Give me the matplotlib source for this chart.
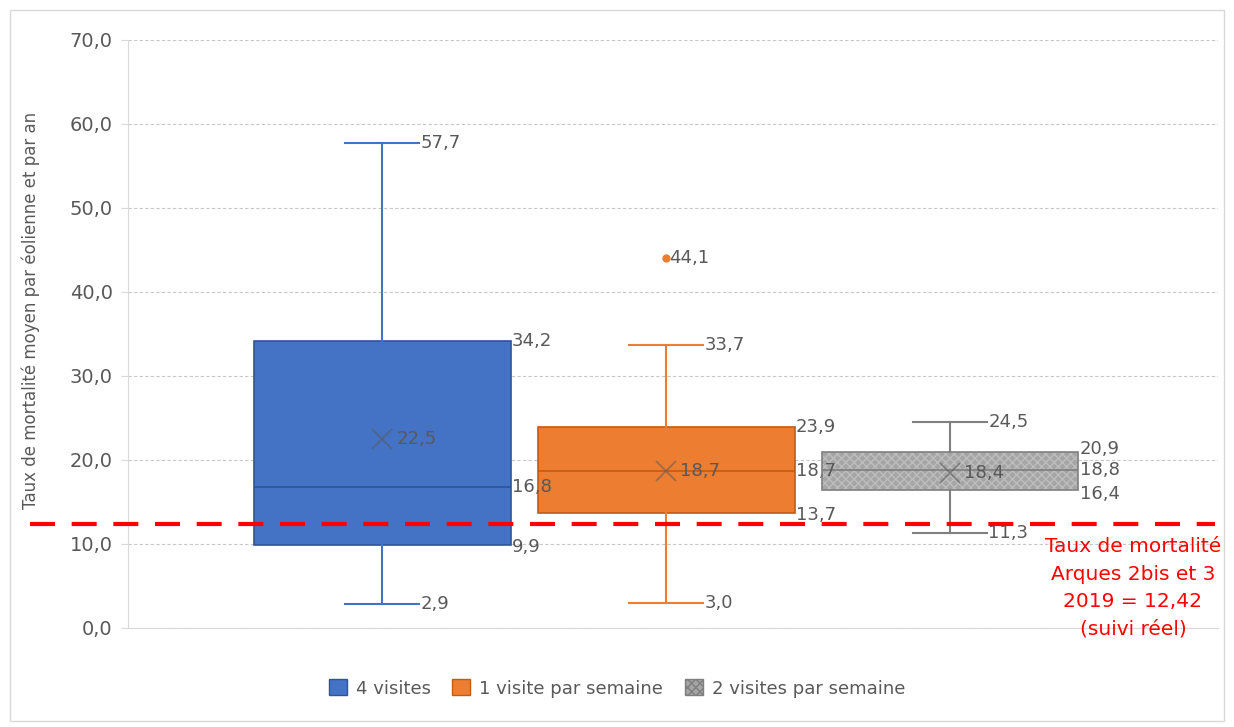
import matplotlib.pyplot as plt
from matplotlib.patches import Rectangle

series = ['4 visites', '1 visite par semaine', '2 visites par semaine']
mins = [2.9, 3.0, 11.3]
q1s = [9.9, 13.7, 16.4]
medians = [16.8, 18.7, 18.8]
q3s = [34.2, 23.9, 20.9]
maxs = [57.7, 33.7, 24.5]
means = [22.5, 18.7, 18.4]
outliers = [[], [44.1], []]
ref_rate = 12.42

fills = ['#4472C4', '#ED7D31', '#A5A5A5']
edges = ['#2F5597', '#C55A11', '#7F7F7F']
txt = '#595959'

def fr(v):
    return f'{v:.1f}'.replace('.', ',')

fig = plt.figure(figsize=(12.34, 7.27), dpi=100)
ax = fig.add_axes([0.1037, 0.1362, 0.8833, 0.8088])

pos = [1, 2, 3]
width = 0.905
cap = 0.26
for i, p in enumerate(pos):
    stats = [dict(whislo=mins[i], q1=q1s[i], med=medians[i], q3=q3s[i],
                  whishi=maxs[i], mean=means[i], fliers=outliers[i])]
    wc = fills[i] if i < 2 else '#808080'
    res = ax.bxp(stats, positions=[p], widths=width, patch_artist=True,
                 showmeans=False, showfliers=False, capwidths=cap,
                 boxprops=dict(facecolor=fills[i], edgecolor=edges[i], linewidth=1.2),
                 medianprops=dict(color=edges[i], linewidth=1.2),
                 whiskerprops=dict(color=wc, linewidth=1.5),
                 capprops=dict(color=wc, linewidth=1.5))
    if i == 2:
        # textured fill with a lighter hatch, outline drawn on top
        b = res['boxes'][0]
        b.set_edgecolor('#BDBDBD')
        b.set_hatch('xxxx')
        b.set_linewidth(0)
        ax.add_patch(Rectangle((p - width / 2, q1s[i]), width, q3s[i] - q1s[i],
                               fill=False, edgecolor=edges[i], linewidth=1.2, zorder=3))
    ax.plot(p, means[i], marker='x', color='#595959', alpha=0.55, markersize=15,
            markeredgewidth=1.3, zorder=5)
    for o in outliers[i]:
        ax.plot(p, o, 'o', color=fills[i], markersize=5, zorder=5)
        ax.text(p + 0.01, o, fr(o), color=txt, fontsize=13, va='center', ha='left')

    right = p + width / 2
    kw = dict(color=txt, fontsize=13, va='center', ha='left')
    ax.text(p + cap / 2 + 0.005, maxs[i], fr(maxs[i]), **kw)
    ax.text(p + cap / 2 + 0.005, mins[i], fr(mins[i]), **kw)
    ax.text(p + 0.05, means[i], fr(means[i]), **kw)
    if i == 2:
        ax.text(right + 0.005, q3s[i] + 0.4, fr(q3s[i]), **kw)
        ax.text(right + 0.005, medians[i], fr(medians[i]), **kw)
        ax.text(right + 0.005, q1s[i] - 0.4, fr(q1s[i]), **kw)
    else:
        ax.text(right + 0.005, q3s[i], fr(q3s[i]), **kw)
        ax.text(right + 0.005, medians[i], fr(medians[i]), **kw)
        ax.text(right + 0.005, q1s[i] - 0.3, fr(q1s[i]), **kw)

# reference line
ax.plot([-0.09, 0.997], [ref_rate, ref_rate], transform=ax.get_yaxis_transform(),
        color='#FF0000', linestyle=(0, (6, 4)), linewidth=3, clip_on=False, zorder=6)
ax.text(0.922, 10.8, 'Taux de mortalité\nArques 2bis et 3\n2019 = 12,42\n(suivi réel)',
        transform=ax.get_yaxis_transform(), ha='center', va='top', color='#FF0000',
        fontsize=14.5, linespacing=1.55, clip_on=False)

ax.set_xlim(0.104, 3.944)
ax.set_ylim(0, 70)
ax.set_yticks(range(0, 71, 10))
ax.set_yticklabels([fr(v) for v in range(0, 71, 10)], color=txt, fontsize=14)
ax.set_xticks([])
ax.yaxis.grid(True, color='#C8C8C8', linestyle=(0, (3, 2)), linewidth=0.8)
ax.set_axisbelow(True)
for s in ['top', 'right']:
    ax.spines[s].set_visible(False)
ax.spines['left'].set_color('#D9D9D9')
ax.spines['bottom'].set_color('#D9D9D9')
ax.tick_params(axis='y', length=5, color='#D9D9D9', pad=6)
ax.set_ylabel('Taux de mortalité moyen par éolienne et par an', color=txt,
              fontsize=12)
ax.yaxis.set_label_coords(-0.081, 0.54)

handles = [Rectangle((0, 0), 1, 1, facecolor=fills[i], edgecolor=edges[i],
                     hatch='xxxx' if i == 2 else None) for i in range(3)]
fig.legend(handles, series, loc='center', bbox_to_anchor=(0.5, 0.053), ncol=3,
           frameon=False, fontsize=13, labelcolor=txt, handlelength=1.0,
           handleheight=1.0, columnspacing=1.2, handletextpad=0.5)

fig.patches.append(Rectangle((0.008, 0.008), 0.984, 0.978, transform=fig.transFigure,
                             fill=False, edgecolor='#D9D9D9', linewidth=1))

fig.savefig('out.png', dpi=100)
